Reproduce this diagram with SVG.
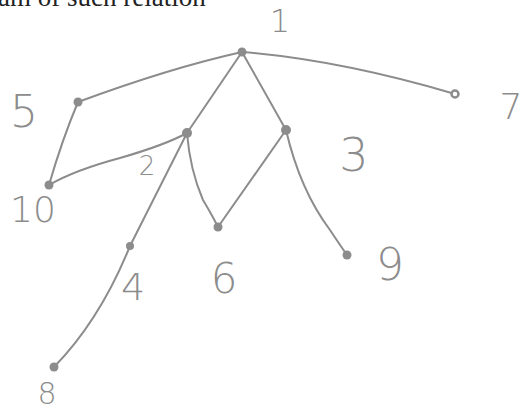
<svg xmlns="http://www.w3.org/2000/svg" width="526" height="414" viewBox="0 0 526 414">
<style>
.e{fill:none;stroke:#8c8c8c;stroke-width:2;stroke-linecap:round}
.d{fill:#8c8c8c}
.l{fill:#8c8c8c;font-family:"DejaVu Sans","Liberation Sans",sans-serif;font-weight:200;text-anchor:middle}
.h{fill:#222;font-family:"Liberation Serif",serif;font-size:27px}
</style>
<rect width="526" height="414" fill="#fff"/>
<text class="h" x="-2" y="6">am of such relation</text>
<g id="edges">
<path class="e" d="M242,52 Q170,68 78,102"/>
<path class="e" d="M242,52 Q340,60 455,94"/>
<path class="e" d="M242,52 L187,133"/>
<path class="e" d="M242,52 L286,130"/>
<path class="e" d="M78,102 Q62,140 49,185"/>
<path class="e" d="M49,185 Q75,170 120,158 Q165,145 187,133"/>
<path class="e" d="M187,133 Q190,170 203,200 Q212,215 218,227"/>
<path class="e" d="M286,130 L218,227"/>
<path class="e" d="M286,130 Q300,190 330,230 Q342,248 347,255"/>
<path class="e" d="M187,133 L130,246"/>
<path class="e" d="M130,246 Q100,320 54,367"/>
</g>
<g id="n1"><circle class="d" cx="242" cy="52" r="4.5"/><text class="l" x="280" y="32" font-size="32">1</text></g>
<g id="n5"><circle class="d" cx="78" cy="102" r="4.5"/><text class="l" x="24" y="127" font-size="44">5</text></g>
<g id="n7"><circle cx="455" cy="94" r="3.5" fill="#fff" stroke="#8c8c8c" stroke-width="2.5"/><text class="l" x="511" y="119" font-size="36">7</text></g>
<g id="n2"><circle class="d" cx="187" cy="133" r="5"/><text class="l" x="147" y="175" font-size="26">2</text></g>
<g id="n3"><circle class="d" cx="286" cy="130" r="5"/><text class="l" x="354" y="171" font-size="46">3</text></g>
<g id="n10"><circle class="d" cx="49" cy="185" r="4.5"/><text class="l" x="33" y="222" font-size="36">10</text></g>
<g id="n6"><circle class="d" cx="218" cy="227" r="4.5"/><text class="l" x="224" y="293" font-size="42">6</text></g>
<g id="n4"><circle class="d" cx="130" cy="246" r="4"/><text class="l" x="133" y="300" font-size="38">4</text></g>
<g id="n9"><circle class="d" cx="347" cy="255" r="4.5"/><text class="l" x="390" y="280" font-size="44">9</text></g>
<g id="n8"><circle class="d" cx="54" cy="367" r="4.5"/><text class="l" x="47" y="404" font-size="30">8</text></g>
</svg>
